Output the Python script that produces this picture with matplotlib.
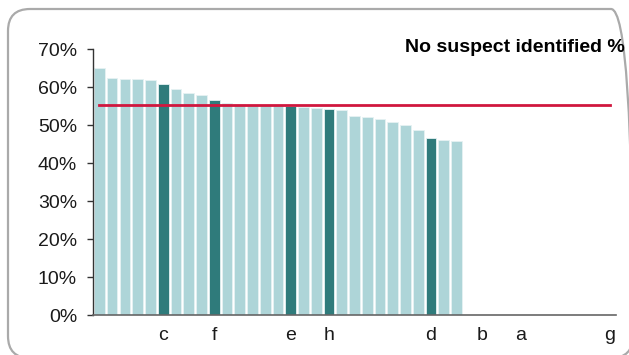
import numpy as np
import matplotlib
matplotlib.use("Agg")
from matplotlib import pyplot as plt
from matplotlib.patches import FancyBboxPatch

plt.rcParams['font.family'] = ['Liberation Sans', 'DejaVu Sans']

### data ###

labels = ['', '', '', '', '', 'c', '', '', '', 'f',
          '', '', '', '', '', 'e', '', '', 'h', '',
          '', '', '', '', '', '', 'd', '', '', '',
          'b', '', '', 'a', '', '', '', '', '', '', 'g']

values = [64.9, 62.5, 62.2, 62.0, 61.8, 60.8, 59.5, 58.4, 57.9, 56.6,
          55.8, 55.4, 55.3, 55.3, 55.2, 55.1, 54.8, 54.6, 54.2, 53.9,
          52.5, 52.0, 51.7, 50.9, 50.1, 48.7, 46.7, 46.1, 45.8, 0,
          0, 0, 0, 0, 0, 0, 0, 0, 0, 0, 0]

highlighted = ['c', 'f', 'e', 'h', 'd']

average = 55.3

title = "No suspect identified %"

### plot ###

light = '#aed5d8'
dark = '#2f7b7b'
colors = [dark if lab in highlighted else light for lab in labels]

fig = plt.figure(figsize=(6.29, 3.55), dpi=100)

# rounded frame round the whole chart (pixel coords, runs off right/bottom edge)
frame = FancyBboxPatch((8, -3), 625, 349,
                       boxstyle="round,pad=0,rounding_size=22",
                       transform=None, facecolor='none',
                       edgecolor='#aaaaaa', linewidth=1.6, zorder=-1)
fig.patches.append(frame)

ax = fig.add_axes([93 / 629, 1 - 315 / 355, 523 / 629, (315 - 49) / 355])
ax.patch.set_alpha(0)

x = np.arange(len(labels))
vals = np.array(values) / 100
ax.bar(x, vals, width=0.84, color=colors, edgecolor='#e6f2f3', linewidth=0.6)
ax.plot(x, [average / 100] * len(x), color='#d0173e', linewidth=2)

ax.set_xlim(-0.5, len(labels) - 0.5)
ax.set_ylim(0, 0.7)
ax.set_yticks(np.arange(0, 0.71, 0.1))
ax.set_yticklabels(["{:.0f}%".format(v * 100) for v in np.arange(0, 0.71, 0.1)])
ax.set_xticks(x)
ax.set_xticklabels(labels)

ax.tick_params(axis='y', length=4.5, width=1, color='#333333', pad=7,
               labelsize=14, labelcolor='#1a1a1a')
ax.tick_params(axis='x', length=0, pad=9, labelsize=14, labelcolor='#1a1a1a')

ax.spines['top'].set_visible(False)
ax.spines['right'].set_visible(False)
ax.spines['left'].set_color('#333333')
ax.spines['bottom'].set_color('#666666')
ax.spines['left'].set_linewidth(1)
ax.spines['bottom'].set_linewidth(1.2)

fig.text(625 / 629, 1 - 47 / 355, title, ha='right', va='center',
         fontsize=14, fontweight='bold', color='black')

plt.savefig("out.png", dpi=100)
